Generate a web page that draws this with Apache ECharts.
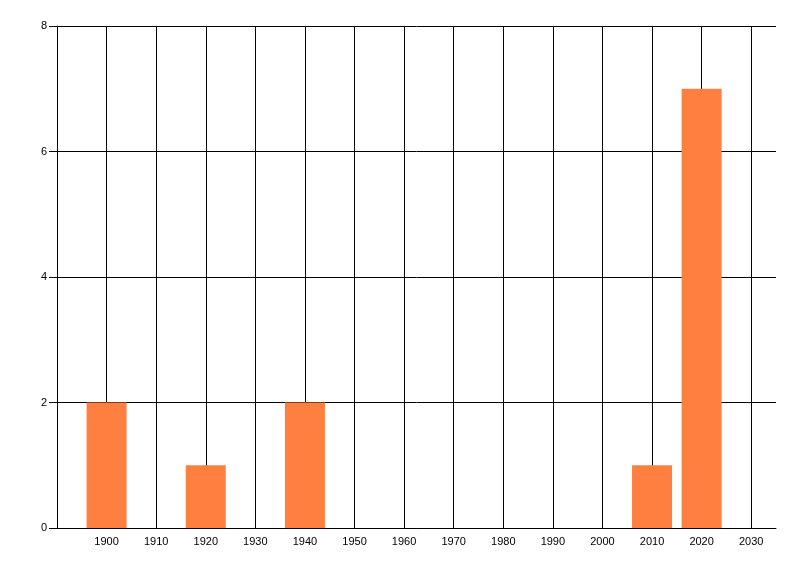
<!DOCTYPE html>
<html>
<head>
<meta charset="utf-8">
<script src="https://cdn.jsdelivr.net/npm/echarts@6/dist/echarts.min.js"></script>
<style>
    html, body { margin: 0; padding: 0; background: #fff; }
    #main { width: 800px; height: 576px; }
</style>
</head>
<body>
<div id="main"></div>
<script>
// 数据
var years = [1900, 1920, 1940, 2010, 2020];
var counts = [2, 1, 2, 1, 7];
var xTicks = [1900, 1910, 1920, 1930, 1940, 1950, 1960, 1970, 1980, 1990, 2000, 2010, 2020, 2030];
var yTicks = [0, 2, 4, 6, 8];

(function () {
    var myChart = echarts.init(document.getElementById("main"));
    var option = {
        animation: false,
        grid: {
            left: 57,
            right: 24,
            top: 26,
            bottom: 48
        },
        xAxis: {
            type: 'value',
            min: 1890,
            max: 2035,
            axisLine: {
                lineStyle: { color: '#000', width: 1 }
            },
            axisTick: {
                show: false,
                customValues: xTicks
            },
            axisLabel: {
                customValues: xTicks,
                // 不要千分位
                formatter: function (v) { return String(v); },
                color: '#000',
                fontFamily: 'Liberation Sans, Arial, sans-serif',
                fontSize: 11,
                margin: 8
            },
            splitLine: {
                show: true,
                lineStyle: { color: '#000', width: 1 }
            }
        },
        yAxis: {
            type: 'value',
            min: 0,
            max: 8,
            interval: 2,
            axisLine: {
                show: true,
                lineStyle: { color: '#000', width: 1 }
            },
            axisTick: {
                show: true,
                length: 8,
                customValues: yTicks,
                lineStyle: { color: '#000' }
            },
            axisLabel: {
                customValues: yTicks,
                color: '#000',
                fontFamily: 'Liberation Sans, Arial, sans-serif',
                fontSize: 11,
                margin: 10
            },
            splitLine: {
                show: true,
                lineStyle: { color: '#000', width: 1 }
            }
        },
        series: [
            {
                type: 'bar',
                barWidth: 40,
                itemStyle: { color: '#ff7f41' },
                data: years.map(function (y, i) { return [y, counts[i]]; })
            }
        ]
    };
    myChart.setOption(option);
})();
</script>
</body>
</html>
